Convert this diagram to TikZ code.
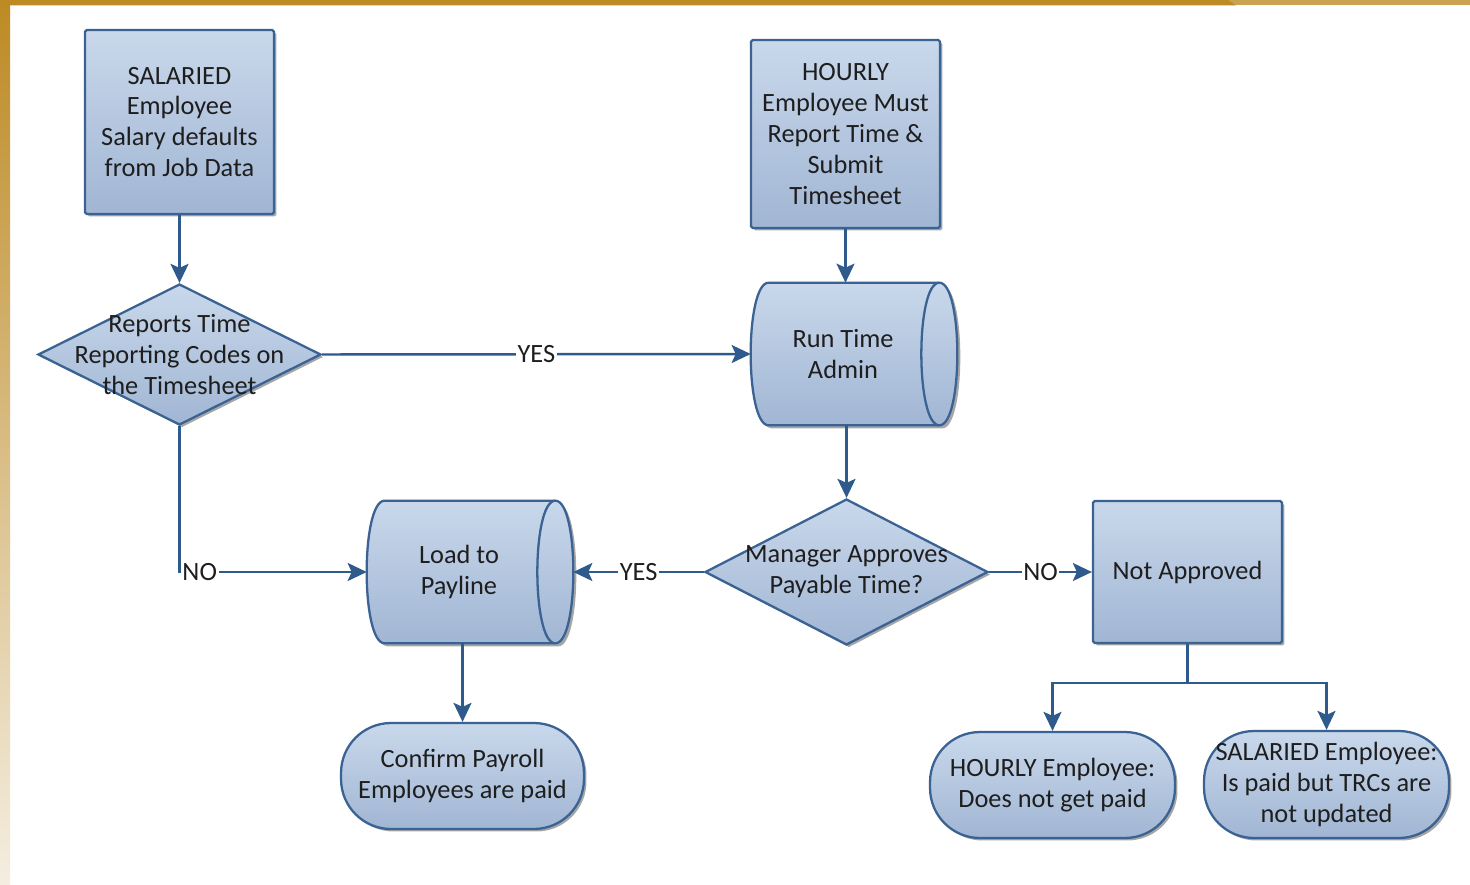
\documentclass[tikz,border=0pt]{standalone}
\usepackage{fontspec}
\setmainfont{Carlito}
\usetikzlibrary{shapes.geometric,shadows,calc,arrows.meta}
\definecolor{fillTop}{HTML}{C9D8EB}
\definecolor{fillBot}{HTML}{A1B6D4}
\definecolor{bord}{HTML}{3A6292}
\definecolor{lineC}{HTML}{2F5A8C}
\definecolor{txt}{HTML}{1E1E1E}
\definecolor{goldA}{HTML}{BD8A24}
\definecolor{goldB}{HTML}{CBA24F}
\definecolor{goldC}{HTML}{F4EEE1}
\newcommand\cylpath[3]{($(#1.north west)+(18+#2,#3)$) -- ($(#1.north east)+(-18+#2,#3)$) .. controls ($(#1.north east)+(6+#2,#3)$) and ($(#1.south east)+(6+#2,#3)$) .. ($(#1.south east)+(-18+#2,#3)$) -- ($(#1.south west)+(18+#2,#3)$) .. controls ($(#1.south west)+(-6+#2,#3)$) and ($(#1.north west)+(-6+#2,#3)$) .. cycle}
\tikzset{
  base/.style={draw=bord, line width=1.3pt, top color=fillTop, bottom color=fillBot,
    text=txt, align=center, inner sep=0pt, font=\fontsize{15}{17.6}\selectfont,
    drop shadow={shadow xshift=0.05cm, shadow yshift=-0.05cm, opacity=0.35, fill=black}},
  procbox/.style={base, rectangle, rounded corners=1pt},
  decide/.style={base, diamond},
  term/.style={base, rectangle, rounded corners=1.0cm},
  cylbox/.style={rectangle, inner sep=0pt},
  txtnode/.style={text=txt, align=center, inner sep=0pt, font=\fontsize{15}{17.6}\selectfont},
  conn/.style={draw=lineC, line width=1.4pt, -{Stealth[length=0.38cm, width=0.36cm, inset=0.08cm]}},
  plain/.style={draw=lineC, line width=1.4pt},
  lbl/.style={fill=white, text=txt, inner sep=1pt, font=\fontsize{15}{17.6}\selectfont},
  cylfill/.style={draw=bord, line width=1.3pt, top color=fillTop, bottom color=fillBot},
  cylshadow/.style={fill=black, opacity=0.35}
}
\begin{document}
\begin{tikzpicture}[x=0.02cm, y=-0.02cm]
\useasboundingbox (0,0) rectangle (1470,885);
% frame
\fill[white] (0,0) rectangle (1470,885);
\fill[goldB] (0,0) rectangle (1470,5.5);
\fill[goldA] (0,0) -- (1228,0) -- (1236,5.5) -- (0,5.5) -- cycle;
\shade[top color=goldA, bottom color=goldC] (0,0) rectangle (10,885);

% nodes
\node[procbox, minimum width=3.78cm, minimum height=3.68cm] (sal) at (179.5,122) {SALARIED\\Employee\\Salary defaults\\from Job Data};
\node[procbox, minimum width=3.78cm, minimum height=3.76cm] (hr) at (845.5,134) {HOURLY\\Employee Must\\Report Time \&\\Submit\\Timesheet};
\node[decide, minimum width=5.66cm, minimum height=2.82cm] (d1) at (179.5,354.5) {};
\node[txtnode] (d1t) at (d1) {Reports Time\\Reporting Codes on\\the Timesheet};

\node[cylbox, minimum width=4.12cm, minimum height=2.84cm] (rta) at (854,354) {};
\path[cylshadow] \cylpath{rta}{3}{3};
\path[cylfill] \cylpath{rta}{0}{0};
\draw[bord, line width=1.3pt] ($(rta.north east)+(-18,0)$) .. controls ($(rta.north east)+(-42,0)$) and ($(rta.south east)+(-42,0)$) .. ($(rta.south east)+(-18,0)$);
\node[txtnode] (rtat) at ($(rta)+(-11,0)$) {Run Time\\Admin};

\node[cylbox, minimum width=4.12cm, minimum height=2.84cm] (load) at (470,572) {};
\path[cylshadow] \cylpath{load}{3}{3};
\path[cylfill] \cylpath{load}{0}{0};
\draw[bord, line width=1.3pt] ($(load.north east)+(-18,0)$) .. controls ($(load.north east)+(-42,0)$) and ($(load.south east)+(-42,0)$) .. ($(load.south east)+(-18,0)$);
\node[txtnode] (loadt) at ($(load)+(-11,0)$) {Load to\\Payline};

\node[decide, minimum width=5.66cm, minimum height=2.92cm] (d2) at (846.5,572) {};
\node[txtnode] (d2t) at (d2) {Manager Approves\\Payable Time?};
\node[procbox, minimum width=3.78cm, minimum height=2.84cm] (na) at (1187.5,572) {Not Approved};

\node[term, minimum width=4.86cm, minimum height=2.12cm] (conf) at (462.5,776) {Confirm Payroll\\Employees are paid};
\node[term, minimum width=4.9cm, minimum height=2.12cm] (hemp) at (1052.5,785) {HOURLY Employee:\\Does not get paid};
\node[term, minimum width=4.9cm, minimum height=2.14cm] (semp) at (1326.5,784.5) {SALARIED Employee:\\Is paid but TRCs are\\not updated};

% connectors
\draw[conn] (sal.south) -- (d1.north);
\draw[conn] (hr.south) -- (hr.south |- rta.north);
\draw[conn] (d1.east) -- node[lbl] {YES} (rta.west);
\draw[conn] (d1.south) |- node[lbl, pos=0.5, anchor=west] {NO} (load.west);
\draw[conn] (d2.north |- rta.south) -- (d2.north);
\draw[conn] (d2.west) -- node[lbl] {YES} (load.east);
\draw[conn] (d2.east) -- node[lbl] {NO} (na.west);
\draw[conn] (conf.north |- load.south) -- (conf.north);
\coordinate (split) at (1187.5,683);
\draw[plain] (na.south) -- (split);
\draw[conn] (split) -| (hemp.north);
\draw[conn] (split) -| (semp.north);
\end{tikzpicture}
\end{document}
